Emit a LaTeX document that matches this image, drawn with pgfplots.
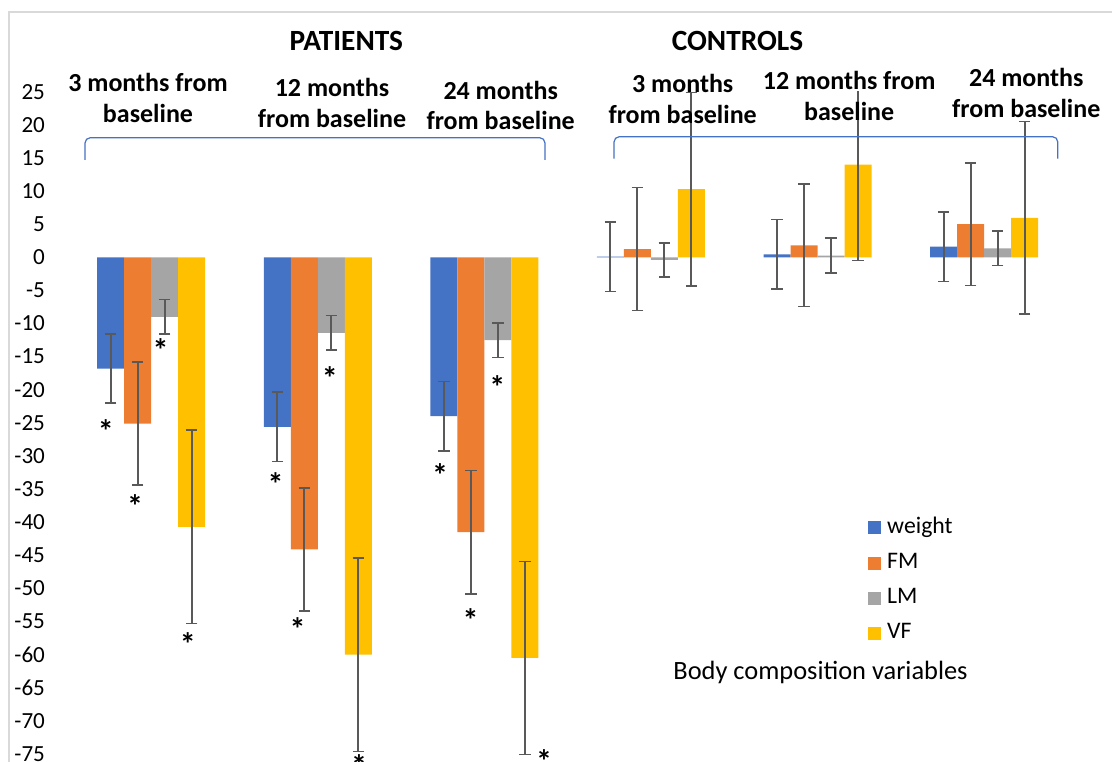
\documentclass[border=0pt]{standalone}
\usepackage{fontspec}
\setmainfont{Carlito}
\usepackage{pgfplots}
\usepackage{pgfplotstable}
\pgfplotsset{compat=1.18}
\definecolor{cW}{HTML}{4472C4}
\definecolor{cFM}{HTML}{ED7D31}
\definecolor{cLM}{HTML}{A5A5A5}
\definecolor{cVF}{HTML}{FFC000}
\definecolor{errc}{HTML}{595959}
\definecolor{bord}{HTML}{D9D9D9}
\pgfplotstableread{
x W We FM FMe LM LMe VF VFe
1 -16.8 5.2 -25.1 9.25 -9.0 2.6 -40.7 14.6
2 -25.6 5.25 -44.1 9.3 -11.4 2.6 -60.0 14.6
3 -24.0 5.25 -41.5 9.3 -12.5 2.6 -60.5 14.55
4 0.1 5.25 1.25 9.3 -0.4 2.6 10.3 14.6
5 0.45 5.25 1.8 9.25 0.25 2.65 14.0 14.5
6 1.6 5.25 5.0 9.25 1.36 2.6 5.95 14.55
}\datatable
\begin{document}
\begin{tikzpicture}
\useasboundingbox (0,0) rectangle (834pt,571.5pt);
\begin{axis}[
  at={(50.9pt,502.7pt)}, anchor=north west,
  scale only axis, width=749.7pt, height=521.55pt,
  xmin=0.5, xmax=6.5, ymin=-80, ymax=25,
  axis line style={draw=none},
  major tick length=0pt,
  xtick=\empty,
  ytick={-75,-70,-65,-60,-55,-50,-45,-40,-35,-30,-25,-20,-15,-10,-5,0,5,10,15,20,25},
  yticklabels={-75,-70,-65,-60,-55,-50,-45,-40,-35,-30,-25,-20,-15,-10,-5,0,5,10,15,20,25},
  yticklabel style={font=\fontsize{17.3}{19}\selectfont, anchor=east, inner sep=0pt, xshift=-17pt},
  ybar=0pt, bar width=20.25pt,
  error bars/y dir=both, error bars/y explicit,
  error bars/error bar style={line width=1.5pt, color=errc},
  error bars/error mark options={rotate=90, mark size=4.3pt, line width=1.2pt, color=errc},
  legend cell align=left,
  legend style={at={(0.8004,0.3884)}, anchor=north west, draw=none, fill=none,
    inner sep=0pt, font=\fontsize{17.8}{20}\selectfont, row sep=10.4pt, column sep=4.5pt,
    nodes={inner sep=0pt, text height=12pt, text depth=4pt}},
]
\addplot[fill=cW, draw=none, legend image code/.code={\fill[cW] (0pt,-4.875pt) rectangle (9.75pt,4.875pt);}] table[x=x,y=W,y error=We] {\datatable};
\addplot[fill=cFM, draw=none, legend image code/.code={\fill[cFM] (0pt,-4.875pt) rectangle (9.75pt,4.875pt);}] table[x=x,y=FM,y error=FMe] {\datatable};
\addplot[fill=cLM, draw=none, legend image code/.code={\fill[cLM] (0pt,-4.875pt) rectangle (9.75pt,4.875pt);}] table[x=x,y=LM,y error=LMe] {\datatable};
\addplot[fill=cVF, draw=none, legend image code/.code={\fill[cVF] (0pt,-4.875pt) rectangle (9.75pt,4.875pt);}] table[x=x,y=VF,y error=VFe] {\datatable};
\legend{weight,FM,LM,VF}
\begin{scope}[every node/.style={font=\fontsize{24}{26}\selectfont\bfseries, inner sep=0pt, yshift=-4.5pt}]
\node at (axis cs:0.7287,-25.32) {*};
\node at (axis cs:0.9034,-36.65) {*};
\node at (axis cs:1.057,-13.14) {*};
\node at (axis cs:1.2203,-57.44) {*};
\node at (axis cs:1.7461,-33.37) {*};
\node at (axis cs:1.8794,-55.26) {*};
\node at (axis cs:2.0726,-17.27) {*};
\node at (axis cs:2.2473,-75.90) {*};
\node at (axis cs:2.7341,-32.01) {*};
\node at (axis cs:2.9178,-53.9) {*};
\node at (axis cs:3.0786,-18.63) {*};
\node at (axis cs:3.3589,-75.15) {*};
\end{scope}
\end{axis}
\begin{scope}[x=0.75pt,y=-0.75pt,yshift=571.5pt]
  \draw[bord, line width=1.1pt] (9,765) -- (9,12) -- (1115,12);
  \draw[cW, line width=0.9pt, rounded corners=4pt] (85,160) -- (85,137.7) -- (545,137.7) -- (545,160);
  \draw[cW, line width=0.9pt, rounded corners=4pt] (614,158.7) -- (614,136.7) -- (1057.8,136.7) -- (1057.8,158.7);
  \node[font=\fontsize{22}{26}\selectfont\bfseries] at (346.4,40.5) {PATIENTS};
  \node[font=\fontsize{22}{26}\selectfont\bfseries] at (737.5,40.5) {CONTROLS};
  \begin{scope}[every node/.style={font=\fontsize{19.5}{23}\selectfont\bfseries, align=center, inner sep=0pt}]
    \node at (148,98) {3 months from\\baseline};
    \node at (332,103) {12 months\\from baseline};
    \node at (500.7,105.5) {24 months\\from baseline};
    \node at (682.7,99) {3 months\\from baseline};
    \node at (849.2,96) {12 months from\\baseline};
    \node at (1026.3,93.3) {24 months\\from baseline};
  \end{scope}
  \node[font=\fontsize{19.8}{23}\selectfont, inner sep=0pt] at (820.5,672.7) {Body composition variables};
\end{scope}
\end{tikzpicture}
\end{document}
